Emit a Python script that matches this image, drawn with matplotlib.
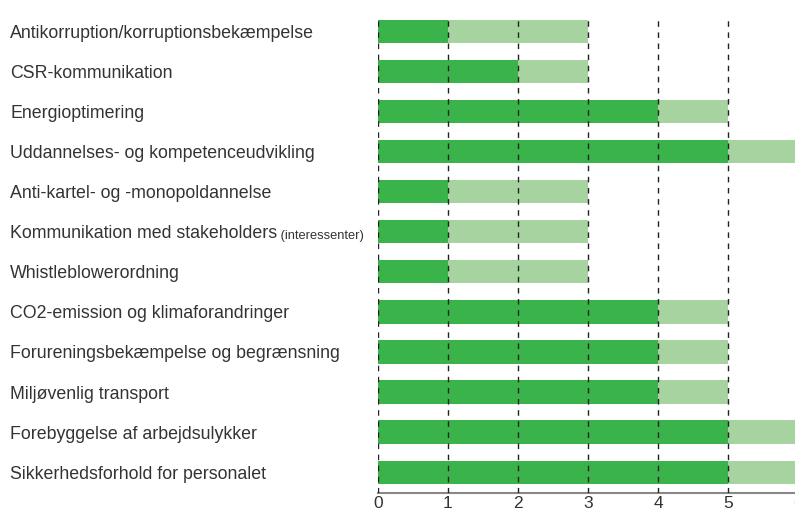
import matplotlib
matplotlib.use("Agg")
import matplotlib.pyplot as plt

categories = [
    "Antikorruption/korruptionsbekæmpelse",
    "CSR-kommunikation",
    "Energioptimering",
    "Uddannelses- og kompetenceudvikling",
    "Anti-kartel- og -monopoldannelse",
    "Kommunikation med stakeholders",
    "Whistleblowerordning",
    "CO2-emission og klimaforandringer",
    "Forureningsbekæmpelse og begrænsning",
    "Miljøvenlig transport",
    "Forebyggelse af arbejdsulykker",
    "Sikkerhedsforhold for personalet",
]
suffixes = {5: "(interessenter)"}
dark_values = [1, 2, 4, 5, 1, 1, 1, 4, 4, 4, 5, 5]
total_values = [3, 3, 5, 6, 3, 3, 3, 5, 5, 5, 6, 6]
ticks = [0, 1, 2, 3, 4, 5, 6]

DARK = "#3BB34B"
LIGHT = "#A7D3A0"
TEXT = "#333333"

W, H = 795, 508
fig = plt.figure(figsize=(W / 100, H / 100), dpi=100)
ax = fig.add_axes([378 / W, 15 / H, 420 / W, 476 / H])

ypos = list(range(len(categories)))
light_values = [t - d for t, d in zip(total_values, dark_values)]
ax.barh(ypos, dark_values, height=0.58, color=DARK, linewidth=0)
ax.barh(ypos, light_values, left=dark_values, height=0.58, color=LIGHT, linewidth=0)

ax.set_xlim(0, 6)
ax.set_ylim(11.52, -0.36)
ax.set_xticks(ticks)
ax.set_xticklabels([str(t) for t in ticks], fontsize=12.5, color=TEXT,
                   family="Liberation Sans")
ax.tick_params(axis="x", length=0, pad=2.5)
ax.set_yticks([])
ax.set_axisbelow(False)
ax.grid(axis="x", color="#222222", linestyle=(0, (4, 4)), linewidth=1)
for s in ["top", "right", "left"]:
    ax.spines[s].set_visible(False)
ax.spines["bottom"].set_color("#888888")
ax.spines["bottom"].set_linewidth(1.5)

for i, name in enumerate(categories):
    yfig = (15 + 476 * (11.52 - i) / (11.52 + 0.36)) / H
    t = fig.text(10 / W, yfig, name, fontsize=12.8, color=TEXT, va="center_baseline",
                 ha="left", family="Liberation Sans")
    if i in suffixes:
        fig.canvas.draw()
        ax.annotate(" " + suffixes[i], xy=(1, 0), xycoords=t, fontsize=9.3,
                    color=TEXT, va="bottom", ha="left", family="Liberation Sans",
                    annotation_clip=False)

fig.savefig("out.png", dpi=100)
